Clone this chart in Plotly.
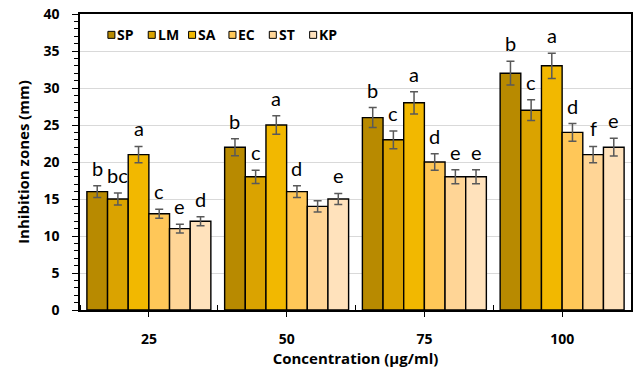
import plotly.graph_objects as go

concentrations = ["25", "50", "75", "100"]
series_names = ["SP", "LM", "SA", "EC", "ST", "KP"]
colors = ["#B88A00", "#DAA300", "#F2B800", "#FFC758", "#FFD596", "#FFE2BC"]

SP = [16, 22, 26, 32]
LM = [15, 18, 23, 27]
SA = [21, 25, 28, 33]
EC = [13, 16, 20, 24]
ST = [11, 14, 18, 21]
KP = [12, 15, 18, 22]

SP_err = [0.8, 1.15, 1.35, 1.6]
LM_err = [0.8, 0.9, 1.2, 1.4]
SA_err = [1.1, 1.25, 1.5, 1.7]
EC_err = [0.6, 0.8, 1.1, 1.2]
ST_err = [0.6, 0.75, 0.95, 1.1]
KP_err = [0.6, 0.75, 0.95, 1.2]

SP_lbl = ["b", "b", "b", "b"]
LM_lbl = ["bc", "c", "c", "c"]
SA_lbl = ["a", "a", "a", "a"]
EC_lbl = ["c", "d", "d", "d"]
ST_lbl = ["e", "", "e", "f"]
KP_lbl = ["d", "e", "e", "e"]

values = [SP, LM, SA, EC, ST, KP]
errors = [SP_err, LM_err, SA_err, EC_err, ST_err, KP_err]
labels = [SP_lbl, LM_lbl, SA_lbl, EC_lbl, ST_lbl, KP_lbl]

xpos = list(range(len(concentrations)))
bargap = 0.1
n = len(series_names)
bw = (1 - bargap) / n

fig = go.Figure()
for i, name in enumerate(series_names):
    fig.add_trace(go.Bar(
        x=xpos, y=values[i], name=name,
        marker=dict(color=colors[i], line=dict(color="#000000", width=1.4)),
        error_y=dict(type="data", array=errors[i], visible=True,
                     color="#595959", thickness=1.5, width=4),
        showlegend=False,
    ))

annotations = []
for i in range(n):
    for g in xpos:
        t = labels[i][g]
        if not t:
            continue
        annotations.append(dict(
            x=g + (i - (n - 1) / 2) * bw, y=values[i][g] + errors[i][g],
            xref="x", yref="y", text=t, showarrow=False,
            yanchor="bottom", yshift=4,
            font=dict(family="Lato, Open Sans, sans-serif", size=20, color="#000000"),
        ))

# manual legend (compact, Excel-like)
plot_l, plot_r, plot_t, plot_b = 80, 633, 12, 310
pw, ph = plot_r - plot_l, plot_b - plot_t
leg_x0, leg_step, leg_y = 111.5, 40.5, 33
shapes = []
for i, name in enumerate(series_names):
    cx = (leg_x0 + i * leg_step - plot_l) / pw
    cy = 1 - (leg_y - plot_t) / ph
    shapes.append(dict(type="rect", xref="paper", yref="paper",
                       xsizemode="pixel", ysizemode="pixel",
                       xanchor=cx, yanchor=cy, x0=-3.5, x1=3.5, y0=-3.5, y1=3.5,
                       fillcolor=colors[i], line=dict(color="#000000", width=1)))
    annotations.append(dict(x=cx, y=cy, xref="paper", yref="paper",
                            xanchor="left", yanchor="middle", xshift=4,
                            text=name, showarrow=False,
                            font=dict(family="Open Sans, sans-serif", size=14,
                                      color="#000000", weight="bold")))

fig.update_layout(
    width=637, height=374,
    margin=dict(l=plot_l, r=637 - plot_r, t=plot_t, b=374 - plot_b),
    paper_bgcolor="white", plot_bgcolor="white",
    barmode="group", bargap=bargap, bargroupgap=0,
    annotations=annotations, shapes=shapes,
    font=dict(family="Open Sans, sans-serif", color="#000000"),
)
fig.update_xaxes(
    range=[-0.5, len(concentrations) - 0.5],
    tickmode="array", tickvals=xpos, ticktext=concentrations,
    ticks="outside", ticklen=5, tickwidth=1.3, tickcolor="#000000",
    minor=dict(tick0=0.5, dtick=1, ticks="inside", ticklen=5, tickwidth=1.3, tickcolor="#000000"),
    showline=True, linecolor="#000000", linewidth=1.5, mirror=True,
    showgrid=False, zeroline=False,
    tickfont=dict(size=14, weight="bold"), ticklabelstandoff=10,
    title=dict(text="Concentration (μg/ml)", font=dict(size=15, weight="bold"), standoff=6),
)
fig.update_yaxes(
    range=[0, 40], dtick=5, tick0=0,
    ticks="outside", ticklen=6, tickwidth=1.3, tickcolor="#000000",
    minor=dict(dtick=1, ticks="outside", ticklen=4, tickwidth=1, tickcolor="#000000", showgrid=False),
    showline=True, linecolor="#000000", linewidth=1.5, mirror=True,
    showgrid=True, gridcolor="#D9D9D9", gridwidth=1.2, zeroline=False,
    tickfont=dict(size=14, weight="bold"), ticklabelstandoff=10,
    title=dict(text="Inhibition zones (mm)", font=dict(size=15, weight="bold"), standoff=10),
)

fig.write_html("out.html")
